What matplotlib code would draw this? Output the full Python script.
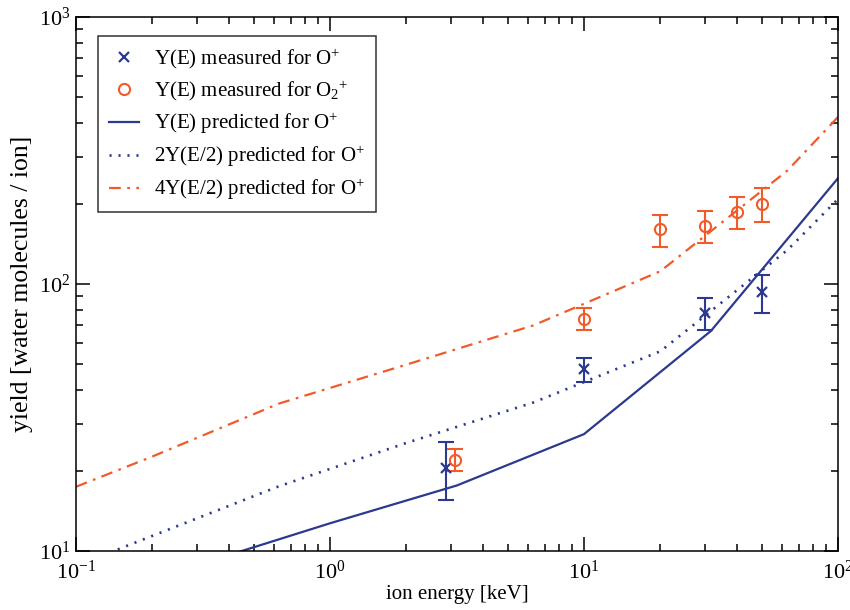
import matplotlib
matplotlib.use("Agg")
import matplotlib.pyplot as plt
import numpy as np
from matplotlib.ticker import LogLocator, LogFormatterSciNotation, NullFormatter

plt.rcParams['font.family'] = ['Liberation Serif', 'DejaVu Serif']
plt.rcParams['mathtext.fontset'] = 'custom'
plt.rcParams['mathtext.rm'] = 'Liberation Serif'
plt.rcParams['mathtext.it'] = 'Liberation Serif:italic'
plt.rcParams['mathtext.bf'] = 'Liberation Serif:bold'
plt.rcParams['axes.unicode_minus'] = False

BLUE = '#2b3990'
ORANGE = '#f15a29'

# measured O+ (keV, yield, error)
o_energy = [2.85, 10, 30, 50]
o_yield = [20.5, 48, 78, 93]
o_err = [5.0, 5.0, 11, 15]

# measured O2+
o2_energy = [3.1, 10, 20, 30, 40, 50]
o2_yield = [22, 74, 160, 165, 186, 200]
o2_err = [2.0, 7.0, 22, 23, 26, 29]

# predicted curves
pred_energy = [0.1, 0.316, 1, 3.16, 10, 31.6, 100]
pred_y = [6.4, 9.0, 12.7, 17.6, 27.4, 66.7, 249]

half_energy = [0.1, 0.2, 0.632, 2, 6.32, 20, 63.2, 100]
pred_2y = [8.8, 11.4, 17.5, 25.4, 36.0, 56, 134, 208]
pred_4y = [17.4, 22.6, 35.7, 49.9, 70, 111.7, 266, 422]

fig = plt.figure(figsize=(8.5, 6.1), dpi=100)
ax = fig.add_axes([76/850, 59/610, 762/850, 534/610])

ax.plot(pred_energy, pred_y, color=BLUE, lw=1.6, ls='-', label=r'Y(E) predicted for O$^{+}$', zorder=2)
ax.plot(half_energy, pred_2y, color=BLUE, lw=1.9, ls=(0, (0.8, 2.6)), label=r'2Y(E/2) predicted for O$^{+}$', zorder=2)
ax.plot(half_energy, pred_4y, color=ORANGE, lw=1.6, ls=(0, (5.3, 2.9, 1.2, 2.9)), label=r'4Y(E/2) predicted for O$^{+}$', zorder=2)

ax.errorbar(o_energy, o_yield, yerr=o_err, fmt='none', ecolor=BLUE, elinewidth=1.5, capsize=5.6, capthick=1.5, zorder=3)
ax.errorbar(o2_energy, o2_yield, yerr=o2_err, fmt='none', ecolor=ORANGE, elinewidth=1.5, capsize=5.6, capthick=1.5, zorder=3)
ax.plot(o_energy, o_yield, ls='none', marker='x', ms=7.5, mew=1.6, color=BLUE, label=r'Y(E) measured for O$^{+}$', zorder=4)
ax.plot(o2_energy, o2_yield, ls='none', marker='o', ms=8, mew=1.5, mfc='none', mec=ORANGE, label=r'Y(E) measured for O$_2{}^{+}$', zorder=4)

ax.set_xscale('log')
ax.set_yscale('log')
ax.set_xlim(0.1, 100)
ax.set_ylim(10, 1000)

for axis in (ax.xaxis, ax.yaxis):
    axis.set_major_locator(LogLocator(base=10, numticks=10))
    axis.set_minor_locator(LogLocator(base=10, subs=np.arange(2, 10), numticks=20))
    axis.set_major_formatter(LogFormatterSciNotation())
    axis.set_minor_formatter(NullFormatter())

ax.tick_params(which='both', direction='in', top=True, right=True, colors='black', labelsize=16)
ax.tick_params(which='major', length=10, width=1.1)
ax.tick_params(which='minor', length=5, width=1.1)
ax.tick_params(axis='x', which='major', pad=7)
ax.tick_params(axis='y', which='major', pad=4)
for s in ax.spines.values():
    s.set_linewidth(1.1)

ax.set_xlabel('ion energy [keV]', fontsize=15, labelpad=1)
ax.set_ylabel('yield [water molecules / ion]', fontsize=18.5, labelpad=4)

handles, labels = ax.get_legend_handles_labels()
order = [labels.index(l) for l in [r'Y(E) measured for O$^{+}$', r'Y(E) measured for O$_2{}^{+}$',
                                     r'Y(E) predicted for O$^{+}$', r'2Y(E/2) predicted for O$^{+}$',
                                     r'4Y(E/2) predicted for O$^{+}$']]
leg = ax.legend([handles[i] for i in order], [labels[i] for i in order],
                loc='upper left', bbox_to_anchor=(0.029, 0.964), borderaxespad=0,
                fontsize=15, frameon=True, fancybox=False, edgecolor='black',
                handlelength=1.45, handletextpad=0.75, borderpad=0.5, labelspacing=0.38)
leg.get_frame().set_linewidth(1.1)

fig.savefig('out.png', dpi=100)
